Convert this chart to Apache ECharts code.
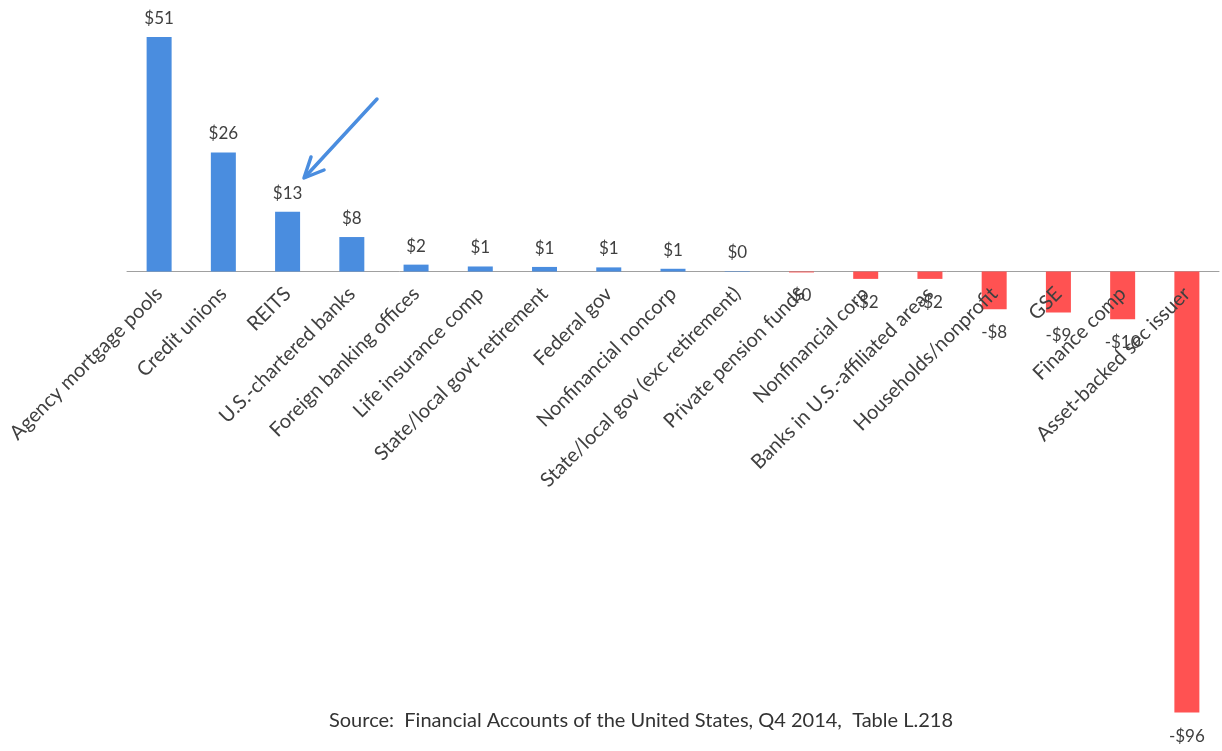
<!DOCTYPE html>
<html>
<head>
<meta charset="utf-8">
<script src="https://cdn.jsdelivr.net/npm/echarts@6/dist/echarts.min.js"></script>
<style>
html,body{margin:0;padding:0;background:#fff;}
#main{width:1222px;height:751px;}
</style>
</head>
<body>
<div id="main"></div>
<script>
const categories = [
  'Agency mortgage pools', 'Credit unions', 'REITS', 'U.S.-chartered banks',
  'Foreign banking offices', 'Life insurance comp', 'State/local govt retirement',
  'Federal gov', 'Nonfinancial noncorp', 'State/local gov (exc retirement)',
  'Private pension funds', 'Nonfinancial corp', 'Banks in U.S.-affiliated areas',
  'Households/nonprofit', 'GSE', 'Finance comp', 'Asset-backed sec issuer'
];
const values = [51, 25.9, 13, 7.5, 1.5, 1.1, 1.0, 0.9, 0.6, 0.1, -0.2, -1.6, -1.6, -8.2, -8.9, -10.4, -95.9];
const sourceText = 'Source:  Financial Accounts of the United States, Q4 2014,  Table L.218';

const BLUE = '#4a8ddf';
const RED = '#ff5252';
const FONT = 'Lato, "Open Sans", sans-serif';
const Y_MIN = -96, Y_MAX = 51;
const G_TOP = 37, G_BOTTOM = 38, G_LEFT = 127, G_RIGHT = 3, H = 751;
// height of the positive part of the plot, so the label axis sits on the zero line
const zeroH = (H - G_TOP - G_BOTTOM) * Y_MAX / (Y_MAX - Y_MIN);

function fmt(v) {
  const r = Math.round(Math.abs(v));
  return (v < 0 && r > 0 ? '-$' : '$') + r;
}

const chart = echarts.init(document.getElementById('main'));
chart.setOption({
  animation: false,
  grid: [
    { left: G_LEFT, right: G_RIGHT, top: G_TOP, bottom: G_BOTTOM, outerBoundsMode: 'none' },
    { left: G_LEFT, right: G_RIGHT, top: G_TOP, height: zeroH, outerBoundsMode: 'none' }
  ],
  xAxis: [{
    type: 'category',
    gridIndex: 0,
    data: categories,
    axisLine: { onZero: true, lineStyle: { color: '#a0a0a0', width: 1 } },
    axisTick: { show: false },
    axisLabel: { show: false }
  }, {
    type: 'category',
    gridIndex: 1,
    z: 10,
    data: categories,
    axisLine: { show: false },
    axisTick: { show: false },
    axisLabel: {
      interval: 0, rotate: 45, margin: 19, hideOverlap: false,
      color: '#404040', fontSize: 20, fontFamily: FONT
    }
  }],
  yAxis: [
    { type: 'value', gridIndex: 0, min: Y_MIN, max: Y_MAX, show: false, splitLine: { show: false } },
    { type: 'value', gridIndex: 1, min: 0, max: 1, show: false, splitLine: { show: false } }
  ],
  series: [{
    type: 'bar',
    xAxisIndex: 0, yAxisIndex: 0,
    barWidth: 25,
    data: values.map(v => ({
      value: v,
      itemStyle: { color: v >= 0 ? BLUE : RED },
      label: { position: v >= 0 ? 'top' : 'bottom', distance: v >= 0 ? 10 : 15 }
    })),
    label: {
      show: true,
      color: '#404040', fontSize: 17, fontFamily: FONT,
      formatter: p => fmt(p.value)
    }
  }],
  graphic: [
    {
      type: 'line',
      shape: { x1: 377, y1: 99, x2: 305, y2: 177 },
      style: { stroke: BLUE, lineWidth: 3.5, lineCap: 'round' }
    },
    {
      type: 'polyline',
      shape: { points: [[311, 157], [304, 178], [324, 170]] },
      style: { stroke: BLUE, lineWidth: 3.5, fill: null, lineCap: 'round', lineJoin: 'round' }
    },
    {
      type: 'text',
      x: 641, y: 721,
      style: { text: sourceText, fill: '#333', fontSize: 20, fontFamily: FONT, align: 'center', verticalAlign: 'middle' }
    }
  ]
});
</script>
</body>
</html>
